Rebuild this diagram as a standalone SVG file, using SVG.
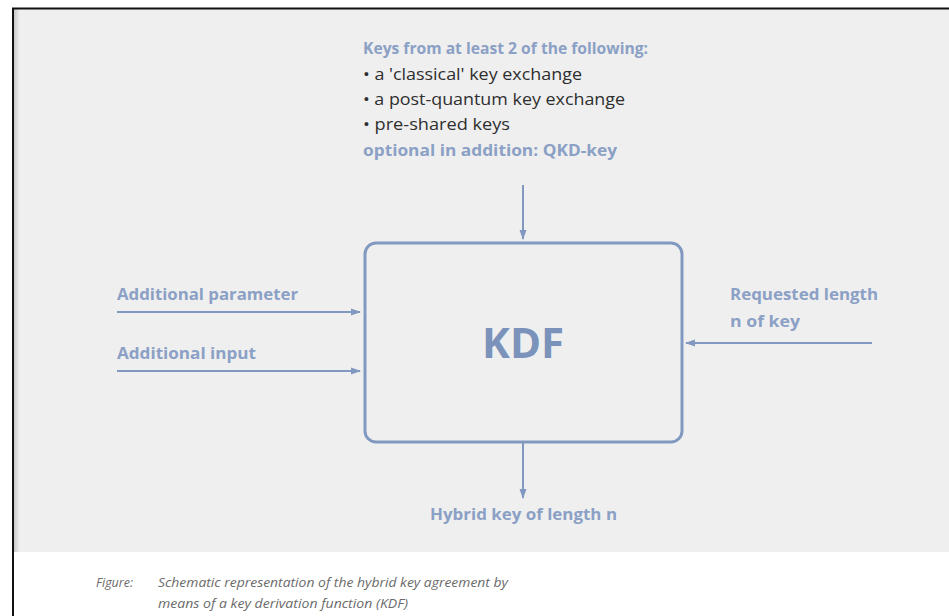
<svg xmlns="http://www.w3.org/2000/svg" width="949" height="616" viewBox="0 0 949 616">
  <defs>
    <marker id="arrow" viewBox="0 0 10 10" refX="9" refY="5" markerWidth="10" markerHeight="10" markerUnits="userSpaceOnUse" orient="auto">
      <path d="M0,1.5 L10,5 L0,8.5 z" fill="#8199c0"/>
    </marker>
    <linearGradient id="edge" x1="0" y1="0" x2="1" y2="0">
      <stop offset="0" stop-color="#c8c8c8"/>
      <stop offset="1" stop-color="#efefef"/>
    </linearGradient>
  </defs>
  <style>
    .lbl { font-family: "Open Sans", "Liberation Sans", sans-serif; font-weight: 700; font-size: 16px; fill: #8ba0c5; }
    .item { font-family: "Open Sans", "Liberation Sans", sans-serif; font-weight: 400; font-size: 16px; fill: #2e2e2e; }
    .wire { stroke: #8199c0; stroke-width: 2; fill: none; marker-end: url(#arrow); }
    .cap { font-family: "Open Sans", "Liberation Sans", sans-serif; font-style: italic; font-size: 12.5px; fill: #6a6a6a; }
  </style>

  <!-- page background and frame -->
  <rect x="0" y="0" width="949" height="616" fill="#ffffff"/>
  <rect x="14" y="9" width="935" height="543" fill="#efefef"/>
  <rect x="14" y="9" width="6" height="543" fill="url(#edge)"/>
  <line x1="12" y1="8.5" x2="949" y2="8.5" stroke="#111" stroke-width="2"/>
  <line x1="13" y1="8" x2="13" y2="616" stroke="#111" stroke-width="2"/>

  <!-- inputs from above -->
  <g id="key-sources">
    <text class="lbl" x="363" y="54" textLength="285" lengthAdjust="spacingAndGlyphs">Keys from at least 2 of the following:</text>
    <text class="item" x="363" y="80" textLength="219" lengthAdjust="spacingAndGlyphs">• a 'classical' key exchange</text>
    <text class="item" x="363" y="105" textLength="262" lengthAdjust="spacingAndGlyphs">• a post-quantum key exchange</text>
    <text class="item" x="363" y="130" textLength="147" lengthAdjust="spacingAndGlyphs">• pre-shared keys</text>
    <text class="lbl" x="363" y="156" textLength="254" lengthAdjust="spacingAndGlyphs">optional in addition: QKD-key</text>
  </g>

  <!-- key derivation function -->
  <g id="kdf">
    <rect x="365" y="243" width="317" height="199" rx="11" ry="11" fill="none" stroke="#8199c0" stroke-width="3"/>
    <text x="523" y="358" text-anchor="middle" font-family="Open Sans, Liberation Sans, sans-serif" font-weight="700" font-size="42" fill="#7b93bb">KDF</text>
  </g>

  <g id="additional-parameter">
    <text class="lbl" x="117" y="300" textLength="181" lengthAdjust="spacingAndGlyphs">Additional parameter</text>
  </g>
  <g id="additional-input">
    <text class="lbl" x="117" y="359" textLength="139" lengthAdjust="spacingAndGlyphs">Additional input</text>
  </g>
  <g id="requested-length">
    <text class="lbl" x="730" y="300" textLength="148" lengthAdjust="spacingAndGlyphs">Requested length</text>
    <text class="lbl" x="730" y="327" textLength="70" lengthAdjust="spacingAndGlyphs">n of key</text>
  </g>
  <g id="hybrid-key">
    <text class="lbl" x="430" y="520" textLength="187" lengthAdjust="spacingAndGlyphs">Hybrid key of length n</text>
  </g>

  <!-- connectors -->
  <g id="connectors">
    <line class="wire" x1="523" y1="185" x2="523" y2="239"/>
    <line class="wire" x1="117" y1="312" x2="360" y2="312"/>
    <line class="wire" x1="117" y1="371" x2="360" y2="371"/>
    <line class="wire" x1="872" y1="343" x2="686" y2="343"/>
    <line class="wire" x1="523" y1="443" x2="523" y2="498"/>
  </g>

  <!-- caption -->
  <g id="caption">
    <text class="cap" x="96" y="587">Figure:</text>
    <text class="cap" x="158" y="587" textLength="350" lengthAdjust="spacingAndGlyphs">Schematic representation of the hybrid key agreement by</text>
    <text class="cap" x="158" y="608" textLength="250" lengthAdjust="spacingAndGlyphs">means of a key derivation function (KDF)</text>
  </g>
</svg>
